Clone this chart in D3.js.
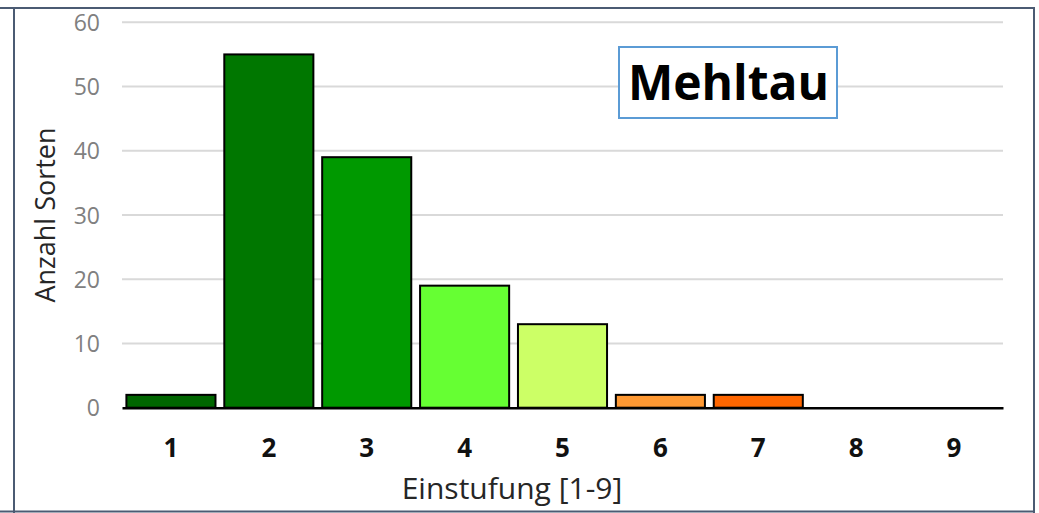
<!DOCTYPE html>
<html>
<head>
<meta charset="utf-8">
<script src="https://cdn.jsdelivr.net/npm/d3@7"></script>
<style>
  body { margin: 0; background: #fff; }
  svg { display: block; font-family: "Open Sans", sans-serif; }
</style>
</head>
<body>
<svg id="chart" width="1039" height="513"></svg>
<script>
let categories = ["1", "2", "3", "4", "5", "6", "7", "8", "9"];
let counts = [2, 55, 39, 19, 13, 2, 2, 0, 0];
let barColors = ["#006600", "#007700", "#009900", "#66ff33", "#ccff66", "#ff9933", "#ff6600", "#ff0000", "#c00000"];
let yTicks = [0, 10, 20, 30, 40, 50, 60];
let title = "Mehltau";

let svg = d3.select("#chart");

// outer frame (cropped screenshot of a framed chart)
let frame = "#4b5b73";
svg.append("line").attr("x1", 0).attr("x2", 1035).attr("y1", 8).attr("y2", 8)
   .attr("stroke", frame).attr("stroke-width", 2);
svg.append("line").attr("x1", 14).attr("x2", 14).attr("y1", 8).attr("y2", 513)
   .attr("stroke", frame).attr("stroke-width", 2);
svg.append("line").attr("x1", 1034).attr("x2", 1034).attr("y1", 8).attr("y2", 513)
   .attr("stroke", frame).attr("stroke-width", 2);
svg.append("line").attr("x1", 0).attr("x2", 1035).attr("y1", 511.5).attr("y2", 511.5)
   .attr("stroke", frame).attr("stroke-width", 2);

let plotLeft = 122, plotRight = 1003, plotTop = 22.3, plotBottom = 407.7;

let x = d3.scaleBand().domain(categories).range([plotLeft, plotRight]).paddingInner(0.09).paddingOuter(0.045);
let y = d3.scaleLinear().domain([0, 60]).range([plotBottom, plotTop]);

// gridlines
svg.append("g")
   .selectAll("line")
   .data(yTicks.filter(d => d > 0))
   .join("line")
   .attr("x1", plotLeft).attr("x2", plotRight)
   .attr("y1", d => y(d)).attr("y2", d => y(d))
   .attr("stroke", "#d9d9d9").attr("stroke-width", 2);

// y axis labels
let yAxis = svg.append("g")
   .attr("transform", `translate(${plotLeft}, 0)`)
   .call(d3.axisLeft(y).tickValues(yTicks).tickSize(0).tickPadding(22));
yAxis.select(".domain").remove();
yAxis.selectAll("text")
     .attr("fill", "#808080")
     .style("font-size", "23px")
     .style("font-family", "Open Sans, sans-serif")
     .attr("dy", "0.35em");

// bars
svg.append("g")
   .selectAll("rect")
   .data(counts)
   .join("rect")
   .attr("x", (d, i) => x(categories[i]))
   .attr("y", d => y(d))
   .attr("width", x.bandwidth())
   .attr("height", d => plotBottom - y(d))
   .attr("fill", (d, i) => barColors[i])
   .attr("stroke", "#000")
   .attr("stroke-width", 2)
   .style("display", d => d > 0 ? null : "none");

// x axis
let xAxis = svg.append("g")
   .attr("transform", `translate(0, ${plotBottom})`)
   .call(d3.axisBottom(x).tickSize(0).tickPadding(31));
xAxis.select(".domain").attr("stroke", "#000").attr("stroke-width", 2.5);
xAxis.selectAll("text")
     .attr("fill", "#111")
     .style("font-size", "26px")
     .style("font-weight", "bold")
     .style("font-family", "Open Sans, sans-serif");

// axis titles
svg.append("text")
   .attr("x", 512).attr("y", 499)
   .attr("text-anchor", "middle")
   .attr("fill", "#262626")
   .style("font-size", "30px")
   .text("Einstufung [1-9]");

svg.append("text")
   .attr("transform", "translate(55, 215) rotate(-90)")
   .attr("text-anchor", "middle")
   .attr("fill", "#262626")
   .style("font-size", "27px")
   .text("Anzahl Sorten");

// title box
svg.append("rect")
   .attr("x", 619).attr("y", 47).attr("width", 218).attr("height", 71)
   .attr("fill", "#fff").attr("stroke", "#5b9bd5").attr("stroke-width", 2);
svg.append("text")
   .attr("x", 728.5).attr("y", 100)
   .attr("text-anchor", "middle")
   .attr("fill", "#000")
   .style("font-size", "48px")
   .style("font-weight", "bold")
   .text(title);
</script>
</body>
</html>
